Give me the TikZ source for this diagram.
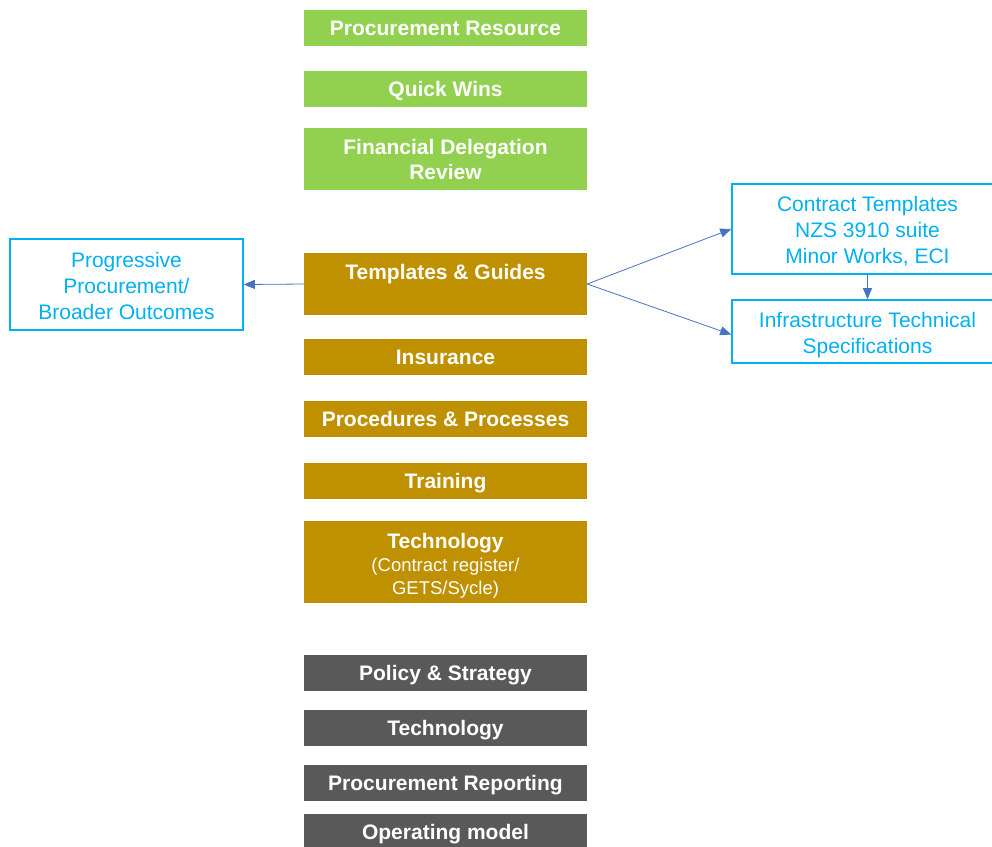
\documentclass[tikz,border=0pt]{standalone}
\usepackage{fontspec}
\setmainfont{Liberation Sans}
\usetikzlibrary{arrows.meta}
\definecolor{cgreen}{HTML}{92D050}
\definecolor{cgold}{HTML}{BF9000}
\definecolor{cgray}{HTML}{595959}
\definecolor{cblue}{HTML}{00B0F0}
\definecolor{carrow}{HTML}{4472C4}
\newcommand\subfnt{\mdseries\fontsize{18.5}{23}\selectfont}
\tikzset{
  bar/.style={rectangle, minimum width=283pt, inner sep=0pt, text=white,
    font=\bfseries\fontsize{21}{25}\selectfont, align=center},
  one/.style={text height=15pt, text depth=0pt},
  gbar/.style={bar, fill=cgreen},
  obar/.style={bar, fill=cgold},
  dbar/.style={bar, fill=cgray},
  bluebox/.style={rectangle, draw=cblue, line width=1.6pt, inner sep=0pt},
  bluetext/.style={text=cblue, inner sep=0pt, font=\fontsize{21}{26}\selectfont, align=center},
  conn/.style={draw=carrow, line width=0.8pt, -{Triangle[length=11pt,width=9pt]}},
}
\begin{document}
\begin{tikzpicture}[x=1pt,y=-1pt]
\useasboundingbox (0,0) rectangle (992,846);
\clip (0,0) rectangle (992,846);
% green
\node[gbar, one, minimum height=36pt] (pr) at (445.5,28) {Procurement Resource};
\node[gbar, one, minimum height=36pt] (qw) at (445.5,89) {Quick Wins};
\node[gbar, minimum height=62pt] (fd) at (445.5,159) {Financial Delegation\\Review};
% gold
\node[obar, minimum height=62pt] (tg) at (445.5,284) {};
\node[bar, one] (tgt) at (445.5,271.5) {Templates \& Guides};
\node[obar, one, minimum height=36pt] (ins) at (445.5,357) {Insurance};
\node[obar, one, minimum height=36pt] (proc) at (445.5,419) {Procedures \& Processes};
\node[obar, one, minimum height=36pt] (tr) at (445.5,481) {Training};
\node[obar, minimum height=82pt] (tech) at (445.5,562) {};
\node[bar, font=\subfnt] (techt) at (445.5,565.5) {{\bfseries\fontsize{21}{25}\selectfont Technology}\\(Contract register/\\GETS/Sycle)};
% gray
\node[dbar, one, minimum height=36pt] (ps) at (445.5,673) {Policy \& Strategy};
\node[dbar, one, minimum height=36pt] (tech2) at (445.5,727.5) {Technology};
\node[dbar, one, minimum height=36pt] (rep) at (445.5,783) {Procurement Reporting};
\node[dbar, one, minimum height=36pt] (op) at (445.5,832) {Operating model};
% blue boxes
\node[bluebox, minimum width=233pt, minimum height=91pt] (pp) at (126.5,284.5) {};
\node[bluetext] (ppt) at (126.5,286) {Progressive\\Procurement/\\Broader Outcomes};
\node[bluebox, minimum width=271pt, minimum height=90pt] (ct) at (867.5,229) {};
\node[bluetext] (ctt) at (867.5,231) {Contract Templates\\NZS 3910 suite\\Minor Works, ECI};
\node[bluebox, minimum width=271pt, minimum height=63pt] (its) at (867.5,331.5) {};
\node[bluetext] (itst) at (867.5,335) {Infrastructure Technical\\Specifications};
% connectors
\draw[conn] (tg.west) -- (pp.east);
\draw[conn] (tg.east) -- (ct.west);
\draw[conn] (tg.east) -- ([yshift=-3pt]its.west);
\draw[conn] (ct.south) -- (its.north);
\end{tikzpicture}
\end{document}
